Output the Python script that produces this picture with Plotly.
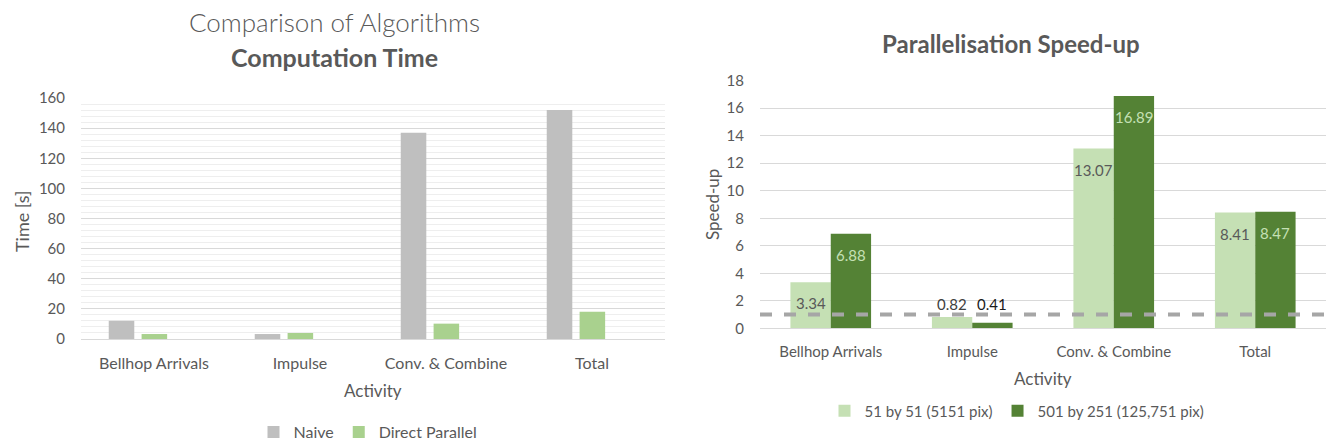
import plotly.graph_objects as go

# ---------------- data ----------------
activities = ["Bellhop Arrivals", "Impulse", "Conv. & Combine", "Total"]

naive_time = [12.1, 3.3, 137, 152]
direct_parallel_time = [3.3, 4.0, 10.2, 18.1]

speedup_small = [3.34, 0.82, 13.07, 8.41]
speedup_large = [6.88, 0.41, 16.89, 8.47]
speedup_baseline = 1

left_ticks = [0, 20, 40, 60, 80, 100, 120, 140, 160]
right_ticks = [0, 2, 4, 6, 8, 10, 12, 14, 16, 18]

# ---------------- layout helpers ----------------
W, H = 1328, 443


def px(x):
    return x / W


def py(y):
    return 1 - y / H


FONT = "Lato, 'Open Sans', sans-serif"
GRAY = "#595959"

fig = go.Figure()

# Left chart
fig.add_trace(go.Bar(
    x=activities, y=naive_time, name="Naive",
    marker=dict(color="#bfbfbf", line=dict(width=0)),
    width=0.175, offset=-0.31, xaxis="x", yaxis="y", legend="legend",
))
fig.add_trace(go.Bar(
    x=activities, y=direct_parallel_time, name="Direct Parallel",
    marker=dict(color="#a9d18e", line=dict(width=0)),
    width=0.175, offset=-0.085, xaxis="x", yaxis="y", legend="legend",
))

# Right chart
fig.add_trace(go.Bar(
    x=activities, y=speedup_small, name="51 by 51 (5151 pix)",
    marker=dict(color="#c5e0b4", line=dict(width=0)),
    width=0.285, offset=-0.285, xaxis="x2", yaxis="y2", legend="legend2",
))
fig.add_trace(go.Bar(
    x=activities, y=speedup_large, name="501 by 251 (125,751 pix)",
    marker=dict(color="#548235", line=dict(width=0)),
    width=0.285, offset=0.0, xaxis="x2", yaxis="y2", legend="legend2",
))

# baseline speed-up = 1 dashed line
fig.add_shape(
    type="line", xref="x2 domain", yref="y2",
    x0=0, x1=1, y0=speedup_baseline, y1=speedup_baseline,
    line=dict(color="#a6a6a6", width=4, dash="dash"),
    layer="above",
)

tickfont = dict(family=FONT, size=15, color=GRAY)
catfont_l = dict(family=FONT, size=16, color=GRAY)
catfont_r = dict(family=FONT, size=15, color=GRAY)

fig.update_layout(
    width=W, height=H, autosize=False,
    margin=dict(l=0, r=0, t=0, b=0, autoexpand=False),
    paper_bgcolor="white", plot_bgcolor="white",
    barmode="overlay",
    font=dict(family=FONT, color=GRAY),
    xaxis=dict(
        domain=[px(81), px(665)], anchor="y",
        range=[-0.5, 3.5], tickfont=catfont_l,
        showgrid=False, showline=True, linecolor="#d9d9d9", linewidth=1,
        ticks="", ticklabelstandoff=10, fixedrange=True,
    ),
    yaxis=dict(
        domain=[py(339), py(98)], anchor="x",
        range=[0, 160], tickvals=left_ticks, tickfont=tickfont,
        showgrid=True, gridcolor="#d9d9d9", gridwidth=1,
        minor=dict(dtick=4, showgrid=True, gridcolor="#eeeeee", gridwidth=1),
        zeroline=False, showline=False, ticks="", ticklabelstandoff=15,
        fixedrange=True,
    ),
    xaxis2=dict(
        domain=[px(760), px(1326)], anchor="y2",
        range=[-0.5, 3.5], tickfont=catfont_r,
        showgrid=False, showline=True, linecolor="#d9d9d9", linewidth=1,
        ticks="", ticklabelstandoff=10, fixedrange=True,
    ),
    yaxis2=dict(
        domain=[py(328.3), py(80.7)], anchor="x2",
        range=[0, 18], tickvals=right_ticks, tickfont=tickfont,
        showgrid=True, gridcolor="#d9d9d9", gridwidth=1,
        zeroline=False, showline=False, ticks="", ticklabelstandoff=15,
        fixedrange=True,
    ),
    legend=dict(
        orientation="h", x=px(368), y=py(432), xanchor="center", yanchor="middle",
        font=dict(family=FONT, size=16, color=GRAY), bgcolor="rgba(0,0,0,0)",
        tracegroupgap=0,
    ),
    legend2=dict(
        orientation="h", x=px(1017), y=py(411), xanchor="center", yanchor="middle",
        font=dict(family=FONT, size=15, color=GRAY), bgcolor="rgba(0,0,0,0)",
        tracegroupgap=0,
    ),
    showlegend=True,
)

annotations = [
    dict(text="Comparison of Algorithms", x=px(335), y=py(22),
         font=dict(family=FONT, size=26, color=GRAY, weight=300)),
    dict(text="<b>Computation Time</b>", x=px(335), y=py(57),
         font=dict(family=FONT, size=25, color=GRAY)),
    dict(text="<b>Parallelisation Speed-up</b>", x=px(1011), y=py(44),
         font=dict(family=FONT, size=24, color=GRAY)),
    dict(text="Time [s]", x=px(22), y=py(221), textangle=-90,
         font=dict(family=FONT, size=18, color=GRAY)),
    dict(text="Activity", x=px(373), y=py(390),
         font=dict(family=FONT, size=17, color=GRAY)),
    dict(text="Speed-up", x=px(712), y=py(205), textangle=-90,
         font=dict(family=FONT, size=17, color=GRAY)),
    dict(text="Activity", x=px(1043), y=py(378),
         font=dict(family=FONT, size=17, color=GRAY)),
]
for a in annotations:
    a.update(xref="paper", yref="paper", showarrow=False,
             xanchor="center", yanchor="middle")

# data labels for the speed-up bars (inside at top when the bar is tall
# enough, otherwise just above the baseline line)
label_specs = [
    (speedup_small, -20.2, "#595959", "#404040"),
    (speedup_large, 20.2, "#c5e0b4", "#1a1a1a"),
]
for values, xshift, in_color, out_color in label_specs:
    for cat, v in zip(activities, values):
        inside = v >= 2
        annotations.append(dict(
            text=f"{v:.2f}", xref="x2", yref="y2", x=cat,
            y=v if inside else max(v, speedup_baseline),
            xshift=xshift, yshift=-10 if inside else 0,
            yanchor="top" if inside else "bottom", xanchor="center",
            showarrow=False,
            font=dict(family=FONT, size=15, color=in_color if inside else out_color),
        ))

fig.update_layout(annotations=annotations)

fig.write_html("out.html")
